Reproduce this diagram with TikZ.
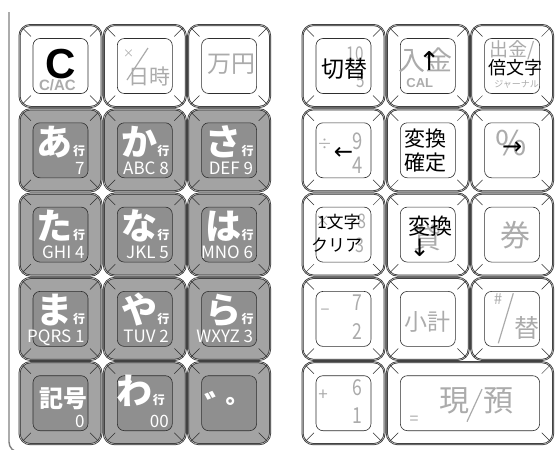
\documentclass[tikz,border=0pt]{standalone}
\usepackage{fontspec}
\setmainfont{Noto Sans CJK JP}
\newfontfamily\condfont[FakeStretch=0.8]{Noto Sans CJK JP}
\newfontfamily\helvfont{Liberation Sans}
\newfontfamily\arrowfont{DejaVu Sans}
\usepackage{xcolor}
\usetikzlibrary{calc}
\definecolor{kbEdge}{HTML}{2E2E2E}
\definecolor{kbGrey}{HTML}{A3A3A3}
\definecolor{kbFace}{HTML}{8F8F8F}
\definecolor{kbLight}{HTML}{ABABAB}
\definecolor{kbPanel}{HTML}{808080}
\newcommand\gyo{{\fontsize{12}{12}\selectfont 行}}

\begin{document}
\begin{tikzpicture}[
  x=1pt, y=-1pt,
  keyW/.style={rectangle, rounded corners=11pt, draw=kbEdge, line width=0.75pt,
               double=gray!35, double distance=0.5pt, fill=white,
               minimum width=82pt, minimum height=82pt, outer sep=0pt, inner sep=0pt},
  keyG/.style={keyW, fill=kbGrey},
  faceW/.style={rectangle, rounded corners=7pt, draw=kbEdge, line width=0.6pt, fill=white,
                minimum width=55pt, minimum height=55pt, outer sep=0pt, inner sep=0pt},
  faceG/.style={faceW, fill=kbFace},
  diag/.style={draw=kbEdge, line width=0.5pt, shorten <=4.5pt, shorten >=2.9pt},
  panel/.style={draw=kbPanel, line width=1.4pt, rounded corners=10pt},
  slashline/.style={draw=kbLight, line width=1.2pt},
  lbl/.style={inner sep=0pt, outer sep=0pt},
  fs/.style={lbl, font=\fontsize{#1}{#1}\selectfont},
  lite/.style={fs=#1, text=kbLight},
  blk/.style={fs=#1, text=black},
  arr/.style={lbl, font=\arrowfont\fontsize{#1}{#1}\selectfont, text=black},
  dg/.style={lbl, font=\condfont\fontsize{#1}{#1}\selectfont, text=kbLight},
  op/.style={lite=#1},
  latin/.style={lbl, font=\helvfont\bfseries\fontsize{#1}{#1}\selectfont, text=kbLight},
  hira/.style={lbl, font=\bfseries\fontsize{36}{36}\selectfont, text=white, anchor=base},
  alnum/.style={lbl, font=\fontsize{17}{17}\selectfont, text=white, anchor=base east},
]
\useasboundingbox (0,0) rectangle (558,450);

% Panel edge
\draw[panel] (9,12) -- (9,452) -- (30,452);

% White keys
\foreach \n/\x/\y in {kC/60.5/66, kDate/144.8/66, kMan/229.1/66,
    kSw/343.5/66, kCal/427.8/66, kBai/512.1/66,
    kDiv/343.5/150.3, kConv/427.8/150.3, kPct/512.1/150.3,
    kMul/343.5/234.6, kConvB/427.8/234.6, kKen/512.1/234.6,
    kMinus/343.5/318.9, kSub/427.8/318.9, kSharp/512.1/318.9,
    kPlus/343.5/403.2}{
  \node[keyW] (\n) at (\x,\y) {};
  \node[faceW] (\n-f) at (\x,\y) {};
}
\node[keyW, minimum width=166.3pt] (kCash) at (470,403.2) {};
\node[faceW, minimum width=139.3pt] (kCash-f) at (470,403.2) {};

% Grey keys
\foreach \n/\x/\y in {kA/60.5/150.3, kKa/144.8/150.3, kSa/229.1/150.3,
    kTa/60.5/234.6, kNa/144.8/234.6, kHa/229.1/234.6,
    kMa/60.5/318.9, kYa/144.8/318.9, kRa/229.1/318.9,
    kKigo/60.5/403.2, kWa/144.8/403.2, kDaku/229.1/403.2}{
  \node[keyG] (\n) at (\x,\y) {};
  \node[faceG] (\n-f) at (\x,\y) {};
}

% Corner bevels
\foreach \k in {kC,kDate,kMan,kSw,kCal,kBai,kDiv,kConv,kPct,kMul,kConvB,kKen,
    kMinus,kSub,kSharp,kPlus,kCash,kA,kKa,kSa,kTa,kNa,kHa,kMa,kYa,kRa,kKigo,kWa,kDaku}{
  \foreach \a in {north east,north west,south east,south west}
    \draw[diag] (\k.\a) -- (\k-f.\a);
}

% Kana keys
\foreach \n/\h/\s in {kA/あ/7, kKa/か/ABC 8, kSa/さ/DEF 9,
    kTa/た/GHI 4, kNa/な/JKL 5, kHa/は/MNO 6,
    kMa/ま/PQRS 1, kYa/や/TUV 2, kRa/ら/WXYZ 3}{
  \node[hira] (\n-h) at ($(\n)+(0.5,5)$) {\h\gyo};
  \node[alnum] (\n-s) at ($(\n)+(24,24)$) {\s};
}
\node[lbl, font=\bfseries\fontsize{24}{24}\selectfont, text=white] (kKigo-t) at ($(kKigo)+(3,-4)$) {記号};
\node[alnum] (kKigo-s) at ($(kKigo)+(24,24)$) {0};
\node[hira] (kWa-h) at ($(kWa)+(-4,1)$) {わ\gyo};
\node[alnum] (kWa-s) at ($(kWa)+(24,24)$) {00};
\node[lbl, font=\bfseries\fontsize{34}{34}\selectfont, text=white] (kDaku-a) at ($(kDaku)+(-7.8,3)$) {゛};
\node[lbl, font=\bfseries\fontsize{34}{34}\selectfont, text=white] (kDaku-b) at ($(kDaku)+(13,8)$) {゜};

% Row 1
\node[lbl, font=\helvfont\bfseries\fontsize{42}{42}\selectfont] (kC-t) at ($(kC)+(0.5,-1.5)$) {C};
\node[latin=15] (kC-s) at ($(kC)+(-3,19.5)$) {C/AC};
\node[lite=11] (kDate-x) at ($(kDate)+(-16.3,-12)$) {×};
\draw[slashline] ($(kDate)+(-17.8,14)$) -- ($(kDate)+(3.2,-18)$);
\node[lite=21] (kDate-t) at ($(kDate)+(4.7,10.5)$) {日時};
\node[lite=24] (kMan-t) at ($(kMan)+(2,-2)$) {万円};
\node[dg=19] (kSw-a) at ($(kSw)+(11.5,-12.5)$) {10};
\node[dg=19] (kSw-b) at ($(kSw)+(17,15)$) {5};
\node[blk=23] (kSw-t) at ($(kSw)+(0.5,2.5)$) {切替};
\node[lite=27] (kCal-t) at ($(kCal)+(-2,-6)$) {入金};
\node[arr=26] (kCal-u) at ($(kCal)+(1.5,-5)$) {↑};
\node[latin=13] (kCal-s) at ($(kCal)+(-8,17)$) {CAL};
\node[lite=19] (kBai-a) at ($(kBai)+(0,-15.5)$) {出金/};
\node[lite=9] (kBai-c) at ($(kBai)+(4.5,18)$) {ジャーナル};
\node[blk=18] (kBai-t) at ($(kBai)+(3,1.5)$) {倍文字};

% Row 2
\node[op=15] (kDiv-o) at ($(kDiv)+(-19,-6)$) {÷};
\node[dg=23] (kDiv-a) at ($(kDiv)+(14.5,-9)$) {9};
\node[dg=23] (kDiv-b) at ($(kDiv)+(14.5,15)$) {4};
\node[arr=23] (kDiv-t) at ($(kDiv)+(0,3)$) {←};
\node[lbl, font=\fontsize{21}{24}\selectfont, align=center] (kConv-t) at ($(kConv)+(-2,0)$) {変換\\確定};
\node[lite=34] (kPct-a) at ($(kPct)+(-1,-7)$) {\%};
\node[arr=24] (kPct-t) at ($(kPct)+(0,-2)$) {→};

% Row 3
\node[op=15] (kMul-o) at ($(kMul)+(-21,-13)$) {×};
\node[dg=20] (kMul-a) at ($(kMul)+(18.5,-13)$) {8};
\node[dg=20] (kMul-b) at ($(kMul)+(16.5,11)$) {3};
\node[blk=17] (kMul-t) at ($(kMul)+(-4.5,-13)$) {1文字};
\node[blk=17] (kMul-u) at ($(kMul)+(-7,10)$) {クリア};
\node[lite=28] (kConvB-a) at ($(kConvB)+(0,3.5)$) {貸};
\node[blk=22] (kConvB-t) at ($(kConvB)+(3,-8.5)$) {変換};
\node[arr=24] (kConvB-u) at ($(kConvB)+(-8,13)$) {↓};
\node[lite=30] (kKen-t) at ($(kKen)+(3,0)$) {券};

% Row 4
\node[op=16] (kMinus-o) at ($(kMinus)+(-18.5,-7)$) {−};
\node[dg=22] (kMinus-a) at ($(kMinus)+(14,-16.5)$) {7};
\node[dg=22] (kMinus-b) at ($(kMinus)+(14,12.5)$) {2};
\node[lite=23] (kSub-t) at ($(kSub)+(0,3)$) {小計};
\node[lite=15] (kSharp-a) at ($(kSharp)+(-14,-20)$) {\#};
\draw[slashline] ($(kSharp)+(-13.8,24.4)$) -- ($(kSharp)+(1.2,-25.6)$);
\node[lite=25] (kSharp-t) at ($(kSharp)+(14.4,8.6)$) {替};

% Row 5
\node[op=17] (kPlus-o) at ($(kPlus)+(-20.5,-8)$) {+};
\node[dg=22] (kPlus-a) at ($(kPlus)+(13.5,-16)$) {6};
\node[dg=22] (kPlus-b) at ($(kPlus)+(13.5,12.5)$) {1};
\node[lite=16] (kCash-o) at ($(kCash)+(-56,17)$) {=};
\node[lite=30] (kCash-a) at ($(kCash)+(-16,-2)$) {現};
\draw[slashline] ($(kCash)+(-3,18.5)$) -- ($(kCash)+(12,-14)$);
\node[lite=30] (kCash-b) at ($(kCash)+(28,-2)$) {預};

\end{tikzpicture}
\end{document}
